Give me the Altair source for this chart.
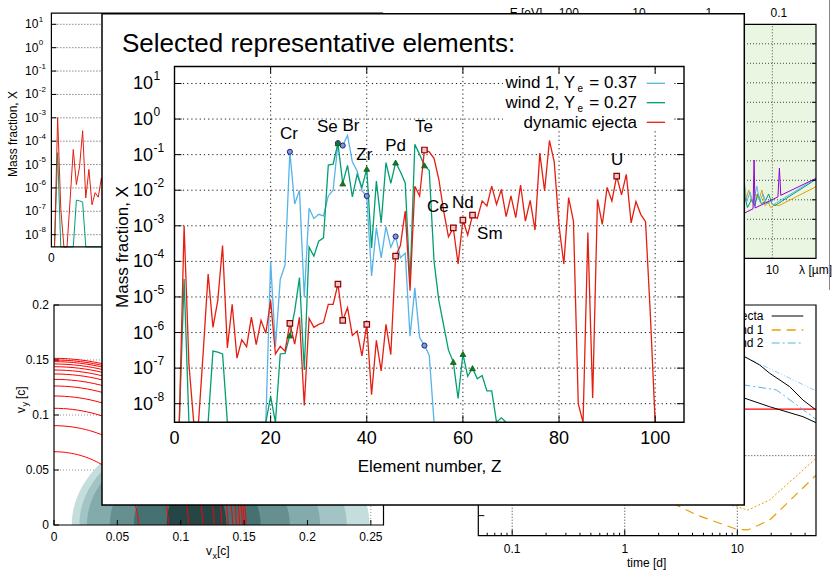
import math
import altair as alt
import pandas as pd

FONT = "Liberation Sans"
BLACK = "#000000"
C_W1 = "#56b4e9"
C_W2 = "#009e73"
C_DYN = "#e51e10"

# ===================== main panel data (mass fraction vs Z) =====================
Z_RED = list(range(1, 101))
X_RED = [
    1e-10, 1.0e-3, 1.3e-7, 1e-11, 1e-10, 3.2e-7, 4.4e-5, 1.4e-6, 7.9e-6, 2.8e-4,
    3.7e-7, 6.2e-6, 1.9e-7, 6.3e-7, 4.0e-7, 2.7e-6, 4.6e-7, 2.2e-6, 9.5e-7, 7.9e-6,
    2.5e-7, 4.1e-7, 3.0e-7, 1.8e-6, 4.7e-7, 2.7e-6, 8.9e-9, 2.5e-6, 1.4e-6, 1.7e-6,
    1.9e-6, 6.2e-6, 6.2e-6, 2.3e-5, 2.2e-6, 5.0e-6, 8.3e-7, 1.1e-6, 2.2e-7, 1.7e-6,
    1.8e-8, 6.0e-7, 8.3e-8, 1.7e-6, 2.4e-7, 1.4e-4, 2.8e-4, 2.6e-3, 1.5e-5, 1.3e-2,
    6.9e-3, 1.35e-1, 1.2e-1, 7.9e-2, 2.0e-2, 2.6e-3, 4.9e-4, 8.7e-4, 8.5e-5, 1.45e-3,
    5.5e-4, 2.0e-3, 1.6e-3, 5.0e-3, 3.6e-3, 1.3e-2, 4.0e-3, 1.05e-2, 1.8e-3, 6.9e-3,
    1.7e-3, 1.4e-2, 1.35e-3, 5.2e-3, 7.6e-4, 1.1e-1, 9.5e-3, 2.5e-1, 6.3e-2, 1.0e-3,
    8.5e-5, 6.2e-3, 1.35e-3, 1.0e-8, 1e-12, 6.5e-4, 1.45e-8, 5.5e-3, 1.1e-3, 1.2e-2,
    5.0e-3, 2.5e-2, 7.4e-3, 2.8e-2, 1.2e-3, 4.8e-3, 2.1e-3, 1.3e-3, 3.2e-6, 1e-9,
]
Z_GREEN = list(range(1, 70))
X_GREEN = [
    1e-10, 3.2e-5, 1e-10, 1e-10, 1e-10, 1e-10, 1e-10, 3.0e-7, 2.8e-7, 2.5e-7,
    1e-10, 1e-10, 1e-10, 1e-10, 1e-10, 1e-10, 1e-10, 1e-10, 1e-10, 1.6e-8,
    1e-10, 2.5e-7, 2.6e-7, 8.3e-7, 4.0e-6, 3.5e-5, 8.9e-8, 2.5e-4, 1.4e-4, 3.7e-4,
    4.6e-4, 5.1e-2, 5.4e-2, 2.1e-1, 1.55e-2, 5.0e-2, 6.5e-3, 2.8e-2, 1.2e-2, 4.0e-2,
    2.4e-4, 1.8e-2, 1.2e-3, 6.0e-2, 1.55e-2, 6.0e-2, 3.3e-2, 1.6e-2, 2.5e-5, 1.95e-1,
    1.0e-1, 5.0e-2, 3.6e-2, 1.0e-4, 7.9e-6, 1.6e-6, 3.2e-7, 1.5e-7, 1.4e-8, 2.5e-7,
    5.9e-8, 1.0e-7, 5.0e-8, 6.2e-8, 2.3e-8, 2.3e-8, 3.0e-9, 4.0e-9, 1e-10,
]
Z_BLUE = list(range(19, 55))
X_BLUE = [
    1e-10, 1.0e-4, 4.0e-7, 3.1e-5, 7.9e-5, 1.2e-1, 4.1e-3, 1.0e-2, 1.0e-5, 3.1e-3,
    1.6e-3, 2.1e-3, 1.9e-3, 6.9e-3, 1.0e-2, 2.1e-1, 1.8e-1, 3.5e-1, 6.3e-2, 3.5e-2,
    9.5e-3, 6.9e-3, 3.9e-5, 8.9e-4, 1.26e-4, 9.5e-4, 2.5e-4, 5.0e-4, 1.26e-4, 1.7e-4,
    7.9e-7, 1.8e-5, 7.2e-7, 4.3e-7, 2.3e-7, 1e-10,
]
MARK_Z_BLUE = [24, 34, 35, 40, 46, 52]
MARK_Z_GREEN = [24, 34, 35, 40, 46, 52, 58, 60, 62]
MARK_Z_RED = [24, 34, 35, 40, 46, 52, 58, 60, 62, 92]
ELEMENTS = ["Cr", "Se", "Br", "Zr", "Pd", "Te", "Ce", "Nd", "Sm", "U"]
ELEMENT_LABEL_Z = [23.8, 31.8, 36.7, 39.5, 46.0, 51.9, 54.8, 60.0, 65.6, 92.1]
ELEMENT_LABEL_X = [0.37, 0.60, 0.63, 0.10, 0.18, 0.60, 3.4e-3, 4.4e-3, 6.0e-4, 6.9e-2]
MAIN_X_DOMAIN = [0, 106]
MAIN_Y_DOMAIN = [3e-9, 30]
MAIN_X_TICKS = [0, 20, 40, 60, 80, 100]
MAIN_Y_TICKS = [1e1, 1e0, 1e-1, 1e-2, 1e-3, 1e-4, 1e-5, 1e-6, 1e-7, 1e-8]
MAIN_Y_EXP = ["1", "0", "-1", "-2", "-3", "-4", "-5", "-6", "-7", "-8"]
LEGEND_MAIN = ["wind 1, Y", "wind 2, Y", "dynamic ejecta"]
LEGEND_MAIN_SUFFIX = ["= 0.37", "= 0.27", ""]

# ===================== bottom-left panel: velocity map =====================
BL_X_TICKS = [0, 0.05, 0.1, 0.15, 0.2, 0.25]
BL_Y_TICKS = [0, 0.05, 0.1, 0.15, 0.2]
BL_ARC_RADII = [0.0666, 0.0903, 0.1061, 0.1173, 0.1264, 0.1324, 0.1373,
                0.1409, 0.1439, 0.1464, 0.1485, 0.1500, 0.1515]
BL_CONTOUR_LEFT = [0.014, 0.020, 0.026, 0.044, 0.063, 0.089]
BL_CONTOUR_RIGHT = [0.249, 0.231, 0.210, 0.186, 0.163, 0.136]
BL_CONTOUR_HEIGHT = [0.095, 0.088, 0.080, 0.068, 0.056, 0.042]
BL_CONTOUR_COLORS = ["#c4dddd", "#a3c4c4", "#84abab", "#668f8f", "#467171", "#244646"]

# ===================== top-right panel: spectra (lambda in micron) =====================
TR_X_DOMAIN = [0.000667, 42.0]
TR_LAMBDA_TICKS = [0.001, 0.01, 0.1, 1, 10]
TR_E_TICKS = [100, 10, 1, 0.1]
TR_Y_GRID = [1, 2, 3, 4, 5, 6, 7, 8, 9, 10, 11]
TR_PURPLE_L = [3.3, 3.94, 5.3, 5.48, 5.66, 12.0, 12.6, 13.2, 42.0]
TR_PURPLE_V = [2.18, 2.31, 2.54, 5.04, 2.58, 3.15, 4.62, 3.23, 4.10]
TR_BLUE_L = [3.62, 3.94, 4.31, 4.8, 5.3, 6.0, 6.6, 7.32, 8.32, 9.36, 10.4, 42.0]
TR_BLUE_V = [3.6, 4.0, 2.9, 3.4, 2.8, 3.7, 2.9, 3.3, 2.8, 2.9, 2.75, 4.10]
TR_GREEN_L = [3.62, 3.94, 4.41, 5.02, 5.6, 6.17, 6.96, 7.85, 8.85, 9.87, 10.9, 42.0]
TR_GREEN_V = [3.0, 3.3, 2.6, 3.0, 2.7, 3.3, 2.8, 2.9, 3.3, 2.8, 2.7, 4.05]
TR_ORANGE_L = [3.62, 3.94, 4.21, 4.6, 5.12, 5.81, 6.42, 7.1, 7.85, 8.65, 9.45, 10.9, 12.4, 42.0]
TR_ORANGE_V = [3.5, 3.9, 3.0, 3.5, 2.9, 3.3, 3.0, 3.5, 2.7, 2.9, 2.6, 2.75, 2.7, 3.67]

# ===================== bottom-right panel: light curves =====================
BR_T_TICKS = [0.1, 1, 10]
BR_T_MINOR = [0.06, 0.07, 0.08, 0.09, 0.2, 0.3, 0.4, 0.5, 0.6, 0.7, 0.8, 0.9,
              2, 3, 4, 5, 6, 7, 8, 9, 20, 30, 40]
BR_EJ1_T = [8, 11.6, 15.8, 19.4, 29.2, 38.3, 50]
BR_EJ1_V = [0.80, 0.776, 0.740, 0.704, 0.646, 0.588, 0.545]
BR_EJ2_T = [8, 11.6, 19.4, 38.3, 50]
BR_EJ2_V = [0.61, 0.596, 0.559, 0.516, 0.490]
BR_W2A_T = [8, 11.6, 50]
BR_W2A_V = [0.79, 0.776, 0.628]
BR_W2B_T = [8, 11.6, 22.2, 50]
BR_W2B_V = [0.66, 0.653, 0.632, 0.505]
BR_RED_T = [8, 50]
BR_RED_V = [0.549, 0.549]
BR_W1A_T = [2, 3.08, 4.34, 9.83, 12.4, 19.4, 50]
BR_W1A_V = [0.17, 0.126, 0.090, 0.028, 0.025, 0.068, 0.262]
BR_W1B_T = [6, 9.83, 12.4, 19.4, 50]
BR_W1B_V = [0.15, 0.126, 0.111, 0.155, 0.335]
BR_LEGEND = ["dynamic ejecta", "wind 1", "wind 2"]


# ===================== helpers =====================
def qx(field, scale):
    return alt.X(field, type="quantitative", scale=scale, axis=None)


def qy(field, scale, **kw):
    return alt.Y(field, type="quantitative", scale=scale, axis=None, **kw)


def line(xvals, yvals, xs, ys, color, width=1.3, dash=None):
    d = pd.DataFrame({"x": xvals, "y": yvals})
    kw = {"strokeDash": dash} if dash else {}
    return alt.Chart(d).mark_line(color=color, strokeWidth=width, **kw).encode(
        x=qx("x", xs), y=qy("y", ys))


def vgrid(values, ymin, ymax, xs, ys, color="#000000", dash=(1, 3), width=0.8):
    n = len(values)
    d = pd.DataFrame({"x": values, "y0": [ymin] * n, "y1": [ymax] * n})
    return alt.Chart(d).mark_rule(color=color, strokeDash=list(dash), strokeWidth=width).encode(
        x=qx("x", xs), y=qy("y0", ys), y2=alt.Y2("y1"))


def hgrid(values, xmin, xmax, xs, ys, color="#000000", dash=(1, 3), width=0.8):
    n = len(values)
    d = pd.DataFrame({"y": values, "x0": [xmin] * n, "x1": [xmax] * n})
    return alt.Chart(d).mark_rule(color=color, strokeDash=list(dash), strokeWidth=width).encode(
        y=qy("y", ys), x=qx("x0", xs), x2=alt.X2("x1"))


def frame(xd, yd, xs, ys, width=1.2, fill=None):
    d = pd.DataFrame({"x0": [xd[0]], "x1": [xd[1]], "y0": [yd[0]], "y1": [yd[1]]})
    if fill:
        mk = alt.Chart(d).mark_rect(fill=fill, strokeWidth=0)
    else:
        mk = alt.Chart(d).mark_rect(fillOpacity=0, stroke=BLACK, strokeWidth=width)
    return mk.encode(x=qx("x0", xs), x2=alt.X2("x1"), y=qy("y0", ys), y2=alt.Y2("y1"))


def ticks(xvals, yvals, xs, ys, orient, size, offset, width=1.0):
    d = pd.DataFrame({"x": xvals, "y": yvals})
    kw = {"xOffset": offset} if orient == "horizontal" else {"yOffset": offset}
    return alt.Chart(d).mark_tick(orient=orient, size=size, thickness=width,
                                  color=BLACK, opacity=1, **kw).encode(
        x=qx("x", xs), y=qy("y", ys))


def text_px(s, x, y, size, align="left", baseline="middle", angle=0, color=BLACK):
    return alt.Chart(pd.DataFrame({"t": [s]})).mark_text(
        font=FONT, fontSize=size, align=align, baseline=baseline, angle=angle, color=color
    ).encode(x=alt.value(x), y=alt.value(y), text="t:N")


def xlabels(values, texts, y, xs, size, color=BLACK):
    d = pd.DataFrame({"x": values, "t": texts})
    return alt.Chart(d).mark_text(font=FONT, fontSize=size, align="center",
                                  baseline="middle", color=color).encode(
        x=qx("x", xs), y=alt.value(y), text="t:N")


def ylabels(values, texts, x, ys, size, align="right", dy=0):
    d = pd.DataFrame({"y": values, "t": texts})
    return alt.Chart(d).mark_text(font=FONT, fontSize=size, align=align,
                                  baseline="middle", dy=dy, color=BLACK).encode(
        x=alt.value(x), y=qy("y", ys), text="t:N")


def hseg(x0, x1, y, color, width=1.2, dash=None):
    kw = {"strokeDash": dash} if dash else {}
    return alt.Chart(pd.DataFrame({"a": [0]})).mark_rule(
        color=color, strokeWidth=width, **kw).encode(
        x=alt.value(x0), x2=alt.value(x1), y=alt.value(y))


def vseg(x, y0, y1, color, width=1.0):
    return alt.Chart(pd.DataFrame({"a": [0]})).mark_rule(color=color, strokeWidth=width).encode(
        x=alt.value(x), y=alt.value(y0), y2=alt.value(y1))


def markers(zs, xs_vals, zsel, xs, ys, shape, size, fill, stroke, sw=1.0):
    d = pd.DataFrame({"x": zs, "y": xs_vals})
    d = d[d["x"].isin(zsel)]
    return alt.Chart(d).mark_point(shape=shape, size=size, fill=fill, stroke=stroke,
                                   strokeWidth=sw, fillOpacity=1, opacity=1).encode(
        x=qx("x", xs), y=qy("y", ys))


# ===================== top-left background panel =====================
tlx = alt.Scale(domain=MAIN_X_DOMAIN, range=[51.4, 382.6], nice=False, zero=False)
tly = alt.Scale(type="log", domain=MAIN_Y_DOMAIN, range=[246.9, 13.15], nice=False, clamp=True)
tl = alt.layer(
    hgrid(MAIN_Y_TICKS, 0, 106, tlx, tly, dash=(1, 2), width=0.7),
    line(Z_BLUE, X_BLUE, tlx, tly, C_W1, 1.0),
    line(Z_GREEN, X_GREEN, tlx, tly, C_W2, 1.0),
    line(Z_RED, X_RED, tlx, tly, C_DYN, 1.0),
    frame(MAIN_X_DOMAIN, MAIN_Y_DOMAIN, tlx, tly, 1.2),
    ticks([0] * len(MAIN_Y_TICKS), MAIN_Y_TICKS, tlx, tly, "horizontal", 5, 2.5),
    ylabels(MAIN_Y_TICKS, ["10"] * len(MAIN_Y_TICKS), 25, tly, 12, align="left"),
    ylabels(MAIN_Y_TICKS, MAIN_Y_EXP, 38.8, tly, 8, align="left", dy=-4.5),
    xlabels([0], ["0"], 258, tlx, 12),
    text_px("Mass fraction, X", 17, 134, 12, align="center", baseline="alphabetic", angle=270),
)

# ===================== bottom-left background panel =====================
blx = alt.Scale(domain=[0, 0.26], range=[54, 383.5], nice=False, zero=False)
bly = alt.Scale(domain=[0, 0.2], range=[525, 305], nice=False, zero=False)

# outline table of each contour level (half ellipse spanning [left, right], given height)
contour_layers = []
for i in range(len(BL_CONTOUR_LEFT)):
    L, R, b = BL_CONTOUR_LEFT[i], BL_CONTOUR_RIGHT[i], BL_CONTOUR_HEIGHT[i]
    cx, a = (L + R) / 2.0, (R - L) / 2.0
    steps = [k * math.pi / 60 for k in range(61)]
    outline = pd.DataFrame({
        "vx": [cx - a * math.cos(t) for t in steps],
        "vy": [b * math.sin(t) for t in steps],
        "base": [0.0] * len(steps),
    })
    contour_layers.append(
        alt.Chart(outline).mark_area(color=BL_CONTOUR_COLORS[i], opacity=1, line=False).encode(
            x=qx("vx", blx), y=qy("vy", bly, stack=None), y2=alt.Y2("base"))
    )
arcs = alt.Chart(pd.DataFrame({"r": BL_ARC_RADII})).transform_calculate(
    idx="sequence(0, 46)"
).transform_flatten(["idx"]).transform_calculate(
    th="datum.idx * PI / 90"
).transform_calculate(
    vx="datum.r * cos(datum.th)", vy="datum.r * sin(datum.th)"
).mark_line(color="#ff0000", strokeWidth=1).encode(
    x=qx("vx", blx), y=qy("vy", bly), detail="r:N", order="idx:Q")
bl = alt.layer(
    hgrid(BL_Y_TICKS[1:4], 0, 0.26, blx, bly, color="#777777", dash=(1, 2), width=0.8),
    vgrid(BL_X_TICKS[1:], 0, 0.2, blx, bly, color="#777777", dash=(1, 2), width=0.8),
    *contour_layers,
    arcs,
    frame([0, 0.26], [0, 0.2], blx, bly, 1.2),
    ticks([0] * len(BL_Y_TICKS), BL_Y_TICKS, blx, bly, "horizontal", 5, 2.5),
    ticks(BL_X_TICKS, [0] * len(BL_X_TICKS), blx, bly, "vertical", 5, -2.5),
    ylabels(BL_Y_TICKS, ["0", "0.05", "0.1", "0.15", "0.2"], 49, bly, 12),
    xlabels(BL_X_TICKS, ["0", "0.05", "0.1", "0.15", "0.2", "0.25"], 537, blx, 12),
    text_px("v", 206, 555, 12, align="left", baseline="alphabetic"),
    text_px("x", 212.5, 558.5, 9, align="left", baseline="alphabetic"),
    text_px("[c]", 217, 555, 12, align="left", baseline="alphabetic"),
    text_px("v", 25, 413, 12, align="left", baseline="alphabetic", angle=270),
    text_px("y", 28, 406.5, 9, align="left", baseline="alphabetic", angle=270),
    text_px("[c]", 25, 399, 12, align="left", baseline="alphabetic", angle=270),
)

# ===================== top-right background panel =====================
trx = alt.Scale(type="log", domain=TR_X_DOMAIN, range=[480, 816], nice=False)
try_ = alt.Scale(domain=[0, 12], range=[258.3, 24.3], nice=False, zero=False)
tr = alt.layer(
    frame(TR_X_DOMAIN, [0, 12], trx, try_, fill="#eaf6e2"),
    hgrid(TR_Y_GRID, TR_X_DOMAIN[0], TR_X_DOMAIN[1], trx, try_, dash=(1, 2), width=0.7),
    vgrid(TR_LAMBDA_TICKS, 0, 12, trx, try_, dash=(1, 2), width=0.7),
    line(TR_ORANGE_L, TR_ORANGE_V, trx, try_, "#e69f00", 1.0),
    line(TR_GREEN_L, TR_GREEN_V, trx, try_, C_W2, 1.0),
    line(TR_BLUE_L, TR_BLUE_V, trx, try_, C_W1, 1.0),
    line(TR_PURPLE_L, TR_PURPLE_V, trx, try_, "#9400d3", 1.0),
    frame(TR_X_DOMAIN, [0, 12], trx, try_, 1.2),
    ticks([TR_X_DOMAIN[1]] * len(TR_Y_GRID), TR_Y_GRID, trx, try_, "horizontal", 4, -2),
    xlabels(TR_LAMBDA_TICKS, ["0.001", "0.01", "0.1", "1", "10"], 270, trx, 12),
    xlabels([1.23984 / e for e in TR_E_TICKS], ["100", "10", "1", "0.1"], 13.3, trx, 12),
    text_px("E [eV]", 526, 13.3, 12, align="center"),
    text_px("\u03bb [\u00b5m]", 815.5, 270, 12, align="center"),
)

# ===================== bottom-right background panel =====================
brx = alt.Scale(type="log", domain=[0.05, 50], range=[478.3, 816], nice=False)
bry = alt.Scale(domain=[0, 1], range=[535.7, 305], nice=False, zero=False)
br = alt.layer(
    hgrid([0.347], 0.05, 50, brx, bry, dash=(1, 2), width=0.8),
    vgrid(BR_T_TICKS, 0, 1, brx, bry, dash=(1, 2), width=0.8),
    line(BR_RED_T, BR_RED_V, brx, bry, "#ff0000", 1.2),
    line(BR_W1B_T, BR_W1B_V, brx, bry, "#e69f00", 1.0, [2, 2]),
    line(BR_W1A_T, BR_W1A_V, brx, bry, "#e69f00", 1.2, [9, 6]),
    line(BR_W2A_T, BR_W2A_V, brx, bry, "#8fcdf0", 1.0, [5, 2, 1, 2, 1, 2]),
    line(BR_W2B_T, BR_W2B_V, brx, bry, C_W1, 1.0, [8, 3, 2, 3]),
    line(BR_EJ1_T, BR_EJ1_V, brx, bry, BLACK, 1.0),
    line(BR_EJ2_T, BR_EJ2_V, brx, bry, BLACK, 1.0),
    frame([0.05, 50], [0, 1], brx, bry, 1.2),
    ticks(BR_T_TICKS, [0] * 3, brx, bry, "vertical", 6, -3),
    ticks(BR_T_MINOR, [0] * len(BR_T_MINOR), brx, bry, "vertical", 3, -1.5),
    ticks([0.05], [0.087], brx, bry, "horizontal", 6, 3),
    xlabels(BR_T_TICKS, ["0.1", "1", "10"], 548.5, brx, 12),
    text_px("time [d]", 646.7, 563, 12, align="center"),
    text_px(BR_LEGEND[0], 763.5, 316, 12, align="right"),
    text_px(BR_LEGEND[1], 763.5, 330, 12, align="right"),
    text_px(BR_LEGEND[2], 763.5, 343, 12, align="right"),
    hseg(771.7, 803.3, 316, BLACK, 1.2),
    hseg(771.7, 803.3, 330, "#e69f00", 1.4, [9, 6]),
    hseg(771.7, 803.3, 343, C_W1, 1.2, [8, 3, 2, 3]),
)

edge = vseg(829.5, 0, 290, "#888888", 1.0)

# ===================== foreground box =====================
box = alt.Chart(pd.DataFrame({"a": [0]})).mark_rect(
    fill="white", stroke=BLACK, strokeWidth=1.5).encode(
    x=alt.value(102), x2=alt.value(744.3), y=alt.value(13.8), y2=alt.value(505))

# ===================== main foreground panel =====================
mx = alt.Scale(domain=MAIN_X_DOMAIN, range=[174.5, 684.0], nice=False, zero=False)
my = alt.Scale(type="log", domain=MAIN_Y_DOMAIN, range=[422.3, 66.5], nice=False, clamp=True)
elem_df = pd.DataFrame({"x": ELEMENT_LABEL_Z, "y": ELEMENT_LABEL_X, "t": ELEMENTS})
main_layers = [
    vgrid(MAIN_X_TICKS[1:], MAIN_Y_DOMAIN[0], MAIN_Y_DOMAIN[1], mx, my, dash=(1.2, 3), width=0.9),
    hgrid(MAIN_Y_TICKS, MAIN_X_DOMAIN[0], MAIN_X_DOMAIN[1], mx, my, dash=(1.2, 3), width=0.9),
    alt.Chart(pd.DataFrame({"a": [0]})).mark_rect(fill="white").encode(
        x=alt.value(503), x2=alt.value(673), y=alt.value(74), y2=alt.value(130)),
    line(Z_BLUE, X_BLUE, mx, my, C_W1, 1.3),
    line(Z_GREEN, X_GREEN, mx, my, C_W2, 1.3),
    line(Z_RED, X_RED, mx, my, C_DYN, 1.3),
    markers(Z_BLUE, X_BLUE, MARK_Z_BLUE, mx, my, "circle", 26, "#8595d8", "#1a237e", 1.0),
    markers(Z_GREEN, X_GREEN, MARK_Z_GREEN, mx, my, "triangle-up", 34, "#157a22", "#0b5e14", 0.8),
    markers(Z_RED, X_RED, MARK_Z_RED, mx, my, "square", 30, "#f2c6c6", "#8b0000", 1.2),
    frame(MAIN_X_DOMAIN, MAIN_Y_DOMAIN, mx, my, 1.4),
    ticks([MAIN_X_DOMAIN[0]] * 10, MAIN_Y_TICKS, mx, my, "horizontal", 7, 3.5),
    ticks([MAIN_X_DOMAIN[1]] * 10, MAIN_Y_TICKS, mx, my, "horizontal", 7, -3.5),
    ticks(MAIN_X_TICKS, [MAIN_Y_DOMAIN[0]] * 6, mx, my, "vertical", 7, -3.5),
    ticks(MAIN_X_TICKS, [MAIN_Y_DOMAIN[1]] * 6, mx, my, "vertical", 7, 3.5),
    alt.Chart(elem_df).mark_text(font=FONT, fontSize=17, align="center",
                                 baseline="middle", color=BLACK).encode(
        x=qx("x", mx), y=qy("y", my), text="t:N"),
    xlabels(MAIN_X_TICKS, [str(v) for v in MAIN_X_TICKS], 439, mx, 18),
    ylabels(MAIN_Y_TICKS, ["10"] * 10, 133, my, 18, align="left", dy=1),
    ylabels(MAIN_Y_TICKS, MAIN_Y_EXP, 153.5, my, 12, align="left", dy=-7),
    text_px("Element number, Z", 429.5, 472, 17, align="center", baseline="alphabetic"),
    text_px("Mass fraction, X", 128, 247, 17, align="center", baseline="alphabetic", angle=270),
    text_px("Selected representative elements:", 122, 52, 26, align="left", baseline="alphabetic"),
]
legend_y = [83.3, 102.7, 122.3]
legend_colors = [C_W1, C_W2, C_DYN]
for i in range(3):
    if LEGEND_MAIN_SUFFIX[i]:
        main_layers.append(text_px(LEGEND_MAIN[i], 575, legend_y[i], 17, align="right"))
        main_layers.append(text_px("e", 577.5, legend_y[i] + 6, 10, align="left"))
        main_layers.append(text_px(LEGEND_MAIN_SUFFIX[i], 637, legend_y[i], 17, align="right"))
    else:
        main_layers.append(text_px(LEGEND_MAIN[i], 637, legend_y[i] + 0.5, 17, align="right"))
    main_layers.append(hseg(646.7, 665, legend_y[i], legend_colors[i], 1.3))
main = alt.layer(*main_layers)

chart = alt.layer(bl, tl, tr, br, edge, box, main).resolve_scale(
    x="independent", y="independent"
).properties(
    width=832, height=570, padding=0,
    autosize=alt.AutoSizeParams(type="none"), background="white",
).configure_view(stroke=None)

chart.save("out.html", embed_options={"renderer": "svg", "actions": False})
